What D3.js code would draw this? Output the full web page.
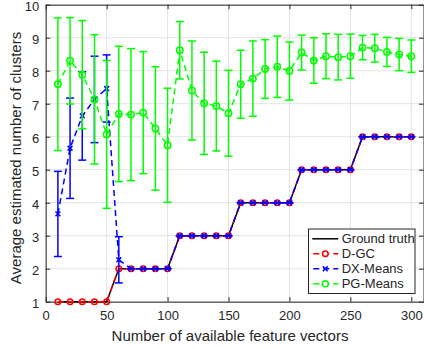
<!DOCTYPE html>
<html><head><meta charset="utf-8">
<script src="https://cdn.jsdelivr.net/npm/d3@7"></script>
<style>body{margin:0;background:#fff}</style>
</head><body>
<script>
// ---- data ----
const nVectors = [10,20,30,40,50,60,70,80,90,100,110,120,130,140,150,160,170,180,190,200,210,220,230,240,250,260,270,280,290,300];
const groundTruth = [1,1,1,1,1,2,2,2,2,2,3,3,3,3,3,4,4,4,4,4,5,5,5,5,5,6,6,6,6,6];
const dgcMean = [1,1,1,1,1,2,2,2,2,2,3,3,3,3,3,4,4,4,4,4,5,5,5,5,5,6,6,6,6,6];
const dxMean = [3.66,5.65,6.63,7.13,7.46,2.27,2,2,2,2,3,3,3,3,3,4,4,4,4,4,5,5,5,5,5,6,6,6,6,6];
const dxStd  = [1.29,1.52,1.34,1.31,1.02,0.70,0,0,0,0,0,0,0,0,0,0,0,0,0,0,0,0,0,0,0,0,0,0,0,0];
const pgMean = [7.59,8.30,7.88,7.13,6.07,6.69,6.67,6.73,6.25,5.74,8.62,7.40,7.01,6.93,6.71,7.59,7.76,8.05,8.12,7.99,8.55,8.31,8.44,8.41,8.44,8.70,8.68,8.57,8.49,8.44];
const pgStd  = [2.01,1.31,1.64,1.96,2.24,2.05,2.00,1.85,1.87,1.73,0.87,1.50,1.55,1.36,1.30,1.03,1.14,0.89,0.93,0.88,0.53,0.69,0.68,0.69,0.67,0.37,0.42,0.44,0.49,0.49];
const xTickValues = [0,50,100,150,200,250,300];
const yTickValues = [1,2,3,4,5,6,7,8,9,10];
const seriesNames = ["Ground truth","D-GC","DX-Means","PG-Means"];
const xLabel = "Number of available feature vectors";
const yLabel = "Average estimated number of clusters";

// ---- layout ----
const W = 424, H = 349;
const L = 45.7, R = 423.5, T = 4.7, B = 301.7;
const textColor = "#262626";
const svg = d3.select("body").append("svg").attr("width", W).attr("height", H)
  .style("font-family", "'Liberation Sans', Arial, Helvetica, sans-serif");

const x = d3.scaleLinear().domain([0, 310]).range([L, R]);
const y = d3.scaleLinear().domain([1, 10]).range([B, T]);

// grid
const grid = svg.append("g").attr("stroke", "#e3e3e3").attr("stroke-width", 1);
grid.selectAll(".gx").data(xTickValues).join("line")
  .attr("x1", d => x(d)).attr("x2", d => x(d)).attr("y1", T).attr("y2", B);
grid.selectAll(".gy").data(yTickValues).join("line")
  .attr("x1", L).attr("x2", R).attr("y1", d => y(d)).attr("y2", d => y(d));

// axes
function styleAxis(g) {
  g.selectAll("path.domain").attr("stroke", "#262626");
  g.selectAll(".tick line").attr("stroke", "#262626");
  g.selectAll(".tick text").attr("fill", textColor).style("font-size", "13px").style("font-family", "'Liberation Sans', Arial, sans-serif");
}
svg.append("g").attr("transform", `translate(0,${B})`)
  .call(d3.axisBottom(x).tickValues(xTickValues).tickSizeInner(-4.5).tickSizeOuter(0).tickPadding(9))
  .call(styleAxis);
svg.append("g").attr("transform", `translate(0,${T})`)
  .call(d3.axisTop(x).tickValues(xTickValues).tickSizeInner(-4.5).tickSizeOuter(0).tickFormat(""))
  .call(styleAxis);
svg.append("g").attr("transform", `translate(${L},0)`)
  .call(d3.axisLeft(y).tickValues(yTickValues).tickSizeInner(-4.5).tickSizeOuter(0).tickPadding(6.5))
  .call(styleAxis)
  .call(g => g.selectAll(".tick text").attr("dy", "0.41em"));
svg.append("g").attr("transform", `translate(${R},0)`)
  .call(d3.axisRight(y).tickValues(yTickValues).tickSizeInner(-4.5).tickSizeOuter(0).tickFormat(""))
  .call(styleAxis);

// labels
svg.append("text").attr("x", 230).attr("y", 341).attr("text-anchor", "middle")
  .attr("fill", textColor).style("font-size", "15px").text(xLabel);
svg.append("text").attr("transform", "translate(21,158) rotate(-90)").attr("text-anchor", "middle")
  .attr("fill", textColor).style("font-size", "15px").text(yLabel);

// series
const line = d3.line().x(d => x(d[0])).y(d => y(d[1]));
const zip = (a) => nVectors.map((v, i) => [v, a[i]]);
const capW = 4;

function errorBars(mean, std, color) {
  const g = svg.append("g").attr("stroke", color).attr("stroke-width", 1.5).attr("fill", "none");
  nVectors.forEach((v, i) => {
    const xc = x(v), y0 = y(mean[i] - std[i]), y1 = y(mean[i] + std[i]);
    g.append("line").attr("x1", xc).attr("x2", xc).attr("y1", y0).attr("y2", y1);
    g.append("line").attr("x1", xc - capW).attr("x2", xc + capW).attr("y1", y0).attr("y2", y0);
    g.append("line").attr("x1", xc - capW).attr("x2", xc + capW).attr("y1", y1).attr("y2", y1);
  });
}
function circles(mean, color, r) {
  svg.append("g").selectAll("circle").data(zip(mean)).join("circle")
    .attr("cx", d => x(d[0])).attr("cy", d => y(d[1])).attr("r", r)
    .attr("fill", "none").attr("stroke", color).attr("stroke-width", 1.5);
}
function crosses(mean, color, s) {
  const g = svg.append("g").attr("stroke", color).attr("stroke-width", 1.5);
  zip(mean).forEach(d => {
    const cx = x(d[0]), cy = y(d[1]);
    g.append("line").attr("x1", cx - s).attr("x2", cx + s).attr("y1", cy - s).attr("y2", cy + s);
    g.append("line").attr("x1", cx - s).attr("x2", cx + s).attr("y1", cy + s).attr("y2", cy - s);
  });
}

// Ground truth
svg.append("path").datum(zip(groundTruth)).attr("d", line)
  .attr("fill", "none").attr("stroke", "#000").attr("stroke-width", 1.5);
// D-GC
svg.append("path").datum(zip(dgcMean)).attr("d", line)
  .attr("fill", "none").attr("stroke", "#ff0000").attr("stroke-width", 1.5).attr("stroke-dasharray", "6,4");
circles(dgcMean, "#ff0000", 2.8);
// DX-Means
errorBars(dxMean, dxStd, "#0000ff");
svg.append("path").datum(zip(dxMean)).attr("d", line)
  .attr("fill", "none").attr("stroke", "#0000ff").attr("stroke-width", 1.5).attr("stroke-dasharray", "6,4");
crosses(dxMean, "#0000ff", 2.4);
// PG-Means
errorBars(pgMean, pgStd, "#00ff00");
svg.append("path").datum(zip(pgMean)).attr("d", line)
  .attr("fill", "none").attr("stroke", "#00ff00").attr("stroke-width", 1.5).attr("stroke-dasharray", "6,4");
circles(pgMean, "#00ff00", 3.2);

// legend
const lg = svg.append("g");
lg.append("rect").attr("x", 308.5).attr("y", 229).attr("width", 106.5).attr("height", 64.5)
  .attr("fill", "#fff").attr("stroke", "#262626").attr("stroke-width", 1);
const legendColors = ["#000", "#ff0000", "#0000ff", "#00ff00"];
seriesNames.forEach((name, i) => {
  const yy = 238.8 + i * 15;
  const c = legendColors[i];
  if (i === 0) {
    lg.append("line").attr("x1", 312.3).attr("x2", 338.3).attr("y1", yy).attr("y2", yy)
      .attr("stroke", c).attr("stroke-width", 1.5);
  } else {
    lg.append("line").attr("x1", 312.3).attr("x2", 338.3).attr("y1", yy).attr("y2", yy)
      .attr("stroke", c).attr("stroke-width", 1.5).attr("stroke-dasharray", "6,4").attr("stroke-dashoffset", -1);
    const cx = 325.3;
    if (i === 2) {
      const s = 2.4;
      lg.append("line").attr("x1", cx - s).attr("x2", cx + s).attr("y1", yy - s).attr("y2", yy + s).attr("stroke", c).attr("stroke-width", 1.5);
      lg.append("line").attr("x1", cx - s).attr("x2", cx + s).attr("y1", yy + s).attr("y2", yy - s).attr("stroke", c).attr("stroke-width", 1.5);
    } else {
      lg.append("circle").attr("cx", cx).attr("cy", yy).attr("r", i === 1 ? 2.8 : 3)
        .attr("fill", "#fff").attr("stroke", c).attr("stroke-width", 1.5);
    }
  }
  lg.append("text").attr("x", 341.7).attr("y", yy).attr("dy", "0.36em")
    .attr("fill", textColor).style("font-size", "13px").text(name);
});
</script>
</body></html>
